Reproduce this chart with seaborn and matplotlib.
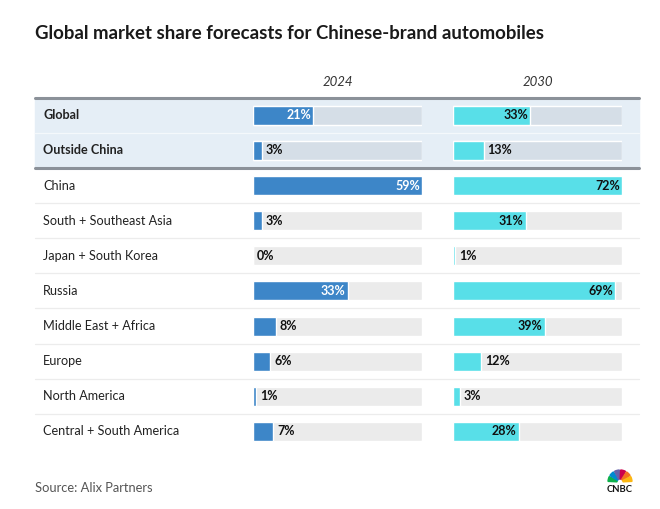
import numpy as np
import pandas as pd
import matplotlib
matplotlib.use("Agg")
import matplotlib.pyplot as plt
import seaborn as sns
from matplotlib.patches import Rectangle, Wedge

# --- DATA ---
regions = ["Global", "Outside China", "China", "South + Southeast Asia",
           "Japan + South Korea", "Russia", "Middle East + Africa", "Europe",
           "North America", "Central + South America"]
share_2024 = [21, 3, 59, 3, 0, 33, 8, 6, 1, 7]
share_2030 = [33, 13, 72, 31, 1, 69, 39, 12, 3, 28]
years = ["2024", "2030"]
n_summary = 2  # first rows are the highlighted summary rows

# --- STYLE ---
sns.set_theme(style="white")
plt.rcParams['font.family'] = ['Lato', 'DejaVu Sans']

W, H = 660, 509
BLUE = "#3d86c8"
CYAN = "#58dfe8"
TRACK = "#ebebeb"
TRACK_HL = "#d5dee7"
BAND = "#e5eef6"
row_top, row_h = 97.7, 35.13
bar_h = 0.54

fig = plt.figure(figsize=(W / 100, H / 100), dpi=100)
bg = fig.add_axes([0, 0, 1, 1])
bg.set_xlim(0, W)
bg.set_ylim(H, 0)
bg.axis("off")

# highlighted band + rules
bg.add_patch(Rectangle((35, row_top), 604, row_h * n_summary, color=BAND, zorder=0))
for k in range(1, len(regions)):
    y = row_top + row_h * k
    col = "#f4f8fb" if k < n_summary else "#ececec"
    bg.plot([35, 639], [y, y], color=col, lw=0.9, zorder=1)
for y in (row_top, row_top + row_h * n_summary):
    bg.plot([35, 639], [y, y], color="#8b9199", lw=2.2, zorder=2)

# row labels
for i, r in enumerate(regions):
    bg.text(43, row_top + row_h * (i + 0.5), r, fontsize=9.1, color="#222222",
            fontweight="bold" if i < n_summary else "normal", va="center", ha="left")

bg.text(35, 33, "Global market share forecasts for Chinese-brand automobiles",
        fontsize=13.4, fontweight="bold", color="#1a1a1a", va="center", ha="left")
bg.text(35, 488, "Source: Alix Partners", fontsize=9.3, color="#555555", va="center")

# CNBC mark
peacock = ["#fcb711", "#f37021", "#cc004c", "#6460aa", "#0089d0", "#0db14b"]
for j, c in enumerate(peacock[::-1]):
    bg.add_patch(Wedge((620, 482), 12, 180 + j * 30 + 3, 180 + (j + 1) * 30 - 3,
                       width=9, color=c, zorder=3))
bg.text(620, 490, "CNBC", fontsize=6.8, fontweight="bold", color="#111111",
        ha="center", va="center")

df = pd.DataFrame({"region": regions, "2024": share_2024, "2030": share_2030})
track_cols = [TRACK_HL] * n_summary + [TRACK] * (len(regions) - n_summary)

panels = [(253, "2024", BLUE, "white"), (453, "2030", CYAN, "#111111")]
for x0, yr, colr, in_col in panels:
    ax = fig.add_axes([x0 / W, 1 - (row_top + row_h * len(regions)) / H,
                       169 / W, row_h * len(regions) / H])
    ax.patch.set_alpha(0)
    vmax = df[yr].max()
    df["track"] = vmax
    sns.barplot(data=df, x="track", y="region", hue="region", palette=track_cols,
                width=bar_h, legend=False, ax=ax, saturation=1)
    sns.barplot(data=df, x=yr, y="region", color=colr, width=bar_h, ax=ax, saturation=1)
    ax.set_xlim(0, vmax)
    ax.set_ylim(len(regions) - 0.5, -0.5)
    ax.axis("off")
    px = vmax / 169.0
    for i, v in enumerate(df[yr]):
        if v / vmax > 0.3:
            ax.text(v - 2 * px, i, f"{v}%", ha="right", va="center", fontsize=9,
                    fontweight="bold", color=in_col)
        else:
            ax.text(v + 4 * px, i, f"{v}%", ha="left", va="center", fontsize=9,
                    fontweight="bold", color="#111111")
    bg.text(x0 + 84.5, 82, yr, fontsize=9.5, style="italic", color="#333333",
            ha="center", va="center")

fig.savefig("out.png", dpi=100, facecolor="white")
